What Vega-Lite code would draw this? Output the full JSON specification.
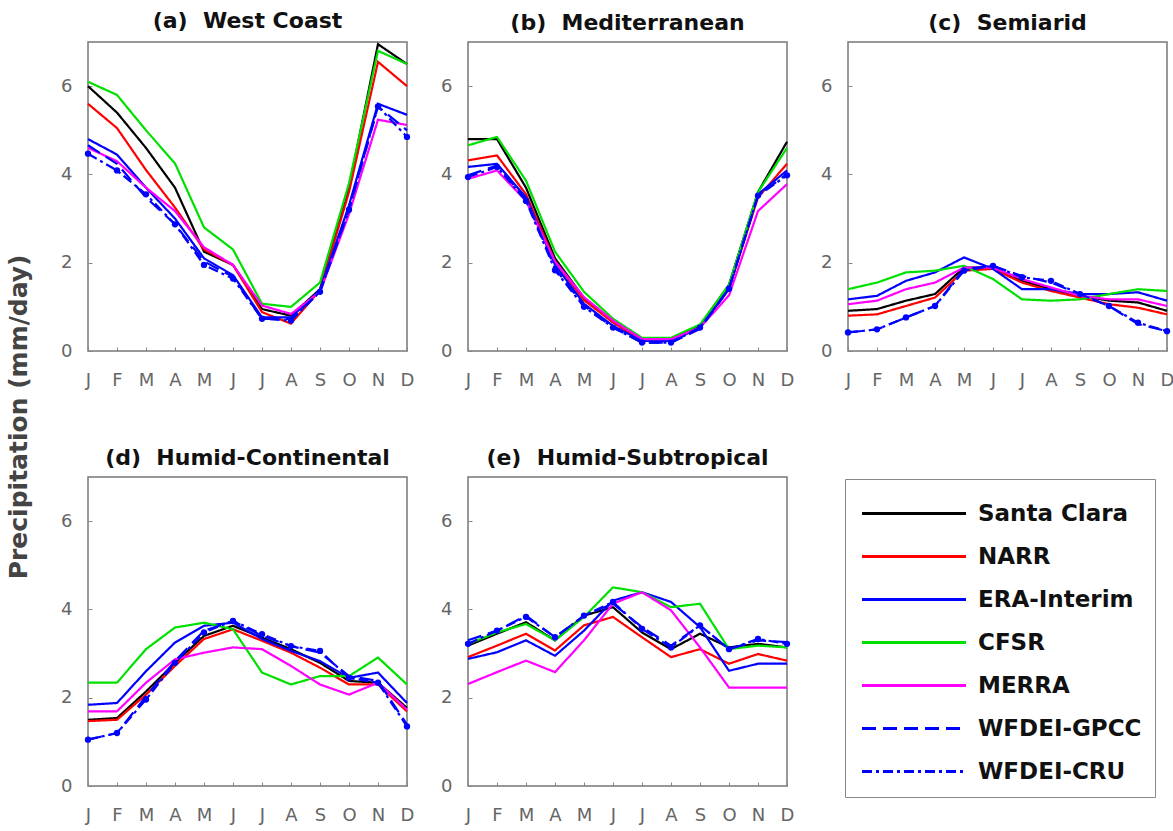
{
  "$schema": "https://vega.github.io/schema/vega-lite/v6.json",
  "padding": {"left": 6, "top": 9, "right": 0, "bottom": 0},
  "background": "white",
  "title": {"text": "Precipitation (mm/day)", "orient": "left", "anchor": "middle", "fontSize": 25, "fontWeight": "bold", "color": "#444", "font": "DejaVu Sans", "offset": 28},
  "config": {
    "view": {"stroke": "#777", "strokeWidth": 1.5},
    "axis": {"labelFont": "DejaVu Sans", "labelFontSize": 18, "labelColor": "#666", "domain": false, "grid": false, "ticks": true, "tickColor": "#888", "tickSize": -4},
    "header": {"labelFont": "DejaVu Sans", "labelFontSize": 22, "labelFontWeight": "bold", "labelColor": "#111", "labelPadding": 7, "title": null},
    "legend": {"labelFont": "DejaVu Sans", "labelFontSize": 23, "labelFontWeight": "bold", "labelColor": "#111", "labelLimit": 300}
  },
  "data": {"values": [
{"r":"a","s":"Santa Clara","m":1,"v":6.0},{"r":"a","s":"Santa Clara","m":2,"v":5.4},{"r":"a","s":"Santa Clara","m":3,"v":4.6},{"r":"a","s":"Santa Clara","m":4,"v":3.7},{"r":"a","s":"Santa Clara","m":5,"v":2.25},{"r":"a","s":"Santa Clara","m":6,"v":1.95},{"r":"a","s":"Santa Clara","m":7,"v":0.95},{"r":"a","s":"Santa Clara","m":8,"v":0.8},{"r":"a","s":"Santa Clara","m":9,"v":1.4},{"r":"a","s":"Santa Clara","m":10,"v":3.7},{"r":"a","s":"Santa Clara","m":11,"v":6.95},{"r":"a","s":"Santa Clara","m":12,"v":6.5},
{"r":"a","s":"NARR","m":1,"v":5.6},{"r":"a","s":"NARR","m":2,"v":5.05},{"r":"a","s":"NARR","m":3,"v":4.1},{"r":"a","s":"NARR","m":4,"v":3.25},{"r":"a","s":"NARR","m":5,"v":2.3},{"r":"a","s":"NARR","m":6,"v":1.95},{"r":"a","s":"NARR","m":7,"v":0.88},{"r":"a","s":"NARR","m":8,"v":0.62},{"r":"a","s":"NARR","m":9,"v":1.38},{"r":"a","s":"NARR","m":10,"v":3.6},{"r":"a","s":"NARR","m":11,"v":6.55},{"r":"a","s":"NARR","m":12,"v":6.0},
{"r":"a","s":"ERA-Interim","m":1,"v":4.8},{"r":"a","s":"ERA-Interim","m":2,"v":4.45},{"r":"a","s":"ERA-Interim","m":3,"v":3.7},{"r":"a","s":"ERA-Interim","m":4,"v":3.0},{"r":"a","s":"ERA-Interim","m":5,"v":2.1},{"r":"a","s":"ERA-Interim","m":6,"v":1.72},{"r":"a","s":"ERA-Interim","m":7,"v":0.76},{"r":"a","s":"ERA-Interim","m":8,"v":0.76},{"r":"a","s":"ERA-Interim","m":9,"v":1.38},{"r":"a","s":"ERA-Interim","m":10,"v":3.3},{"r":"a","s":"ERA-Interim","m":11,"v":5.6},{"r":"a","s":"ERA-Interim","m":12,"v":5.35},
{"r":"a","s":"CFSR","m":1,"v":6.1},{"r":"a","s":"CFSR","m":2,"v":5.8},{"r":"a","s":"CFSR","m":3,"v":5.0},{"r":"a","s":"CFSR","m":4,"v":4.25},{"r":"a","s":"CFSR","m":5,"v":2.8},{"r":"a","s":"CFSR","m":6,"v":2.3},{"r":"a","s":"CFSR","m":7,"v":1.07},{"r":"a","s":"CFSR","m":8,"v":1.0},{"r":"a","s":"CFSR","m":9,"v":1.55},{"r":"a","s":"CFSR","m":10,"v":3.8},{"r":"a","s":"CFSR","m":11,"v":6.8},{"r":"a","s":"CFSR","m":12,"v":6.5},
{"r":"a","s":"MERRA","m":1,"v":4.6},{"r":"a","s":"MERRA","m":2,"v":4.3},{"r":"a","s":"MERRA","m":3,"v":3.7},{"r":"a","s":"MERRA","m":4,"v":3.17},{"r":"a","s":"MERRA","m":5,"v":2.35},{"r":"a","s":"MERRA","m":6,"v":1.95},{"r":"a","s":"MERRA","m":7,"v":1.03},{"r":"a","s":"MERRA","m":8,"v":0.84},{"r":"a","s":"MERRA","m":9,"v":1.34},{"r":"a","s":"MERRA","m":10,"v":3.1},{"r":"a","s":"MERRA","m":11,"v":5.24},{"r":"a","s":"MERRA","m":12,"v":5.12},
{"r":"a","s":"WFDEI-GPCC","m":1,"v":4.66},{"r":"a","s":"WFDEI-GPCC","m":2,"v":4.24},{"r":"a","s":"WFDEI-GPCC","m":3,"v":3.48},{"r":"a","s":"WFDEI-GPCC","m":4,"v":2.87},{"r":"a","s":"WFDEI-GPCC","m":5,"v":2.03},{"r":"a","s":"WFDEI-GPCC","m":6,"v":1.68},{"r":"a","s":"WFDEI-GPCC","m":7,"v":0.73},{"r":"a","s":"WFDEI-GPCC","m":8,"v":0.73},{"r":"a","s":"WFDEI-GPCC","m":9,"v":1.34},{"r":"a","s":"WFDEI-GPCC","m":10,"v":3.2},{"r":"a","s":"WFDEI-GPCC","m":11,"v":5.54},{"r":"a","s":"WFDEI-GPCC","m":12,"v":5.0},
{"r":"a","s":"WFDEI-CRU","m":1,"v":4.47},{"r":"a","s":"WFDEI-CRU","m":2,"v":4.09},{"r":"a","s":"WFDEI-CRU","m":3,"v":3.55},{"r":"a","s":"WFDEI-CRU","m":4,"v":2.87},{"r":"a","s":"WFDEI-CRU","m":5,"v":1.95},{"r":"a","s":"WFDEI-CRU","m":6,"v":1.64},{"r":"a","s":"WFDEI-CRU","m":7,"v":0.73},{"r":"a","s":"WFDEI-CRU","m":8,"v":0.69},{"r":"a","s":"WFDEI-CRU","m":9,"v":1.34},{"r":"a","s":"WFDEI-CRU","m":10,"v":3.2},{"r":"a","s":"WFDEI-CRU","m":11,"v":5.54},{"r":"a","s":"WFDEI-CRU","m":12,"v":4.85},
{"r":"b","s":"Santa Clara","m":1,"v":4.8},{"r":"b","s":"Santa Clara","m":2,"v":4.8},{"r":"b","s":"Santa Clara","m":3,"v":3.7},{"r":"b","s":"Santa Clara","m":4,"v":2.1},{"r":"b","s":"Santa Clara","m":5,"v":1.2},{"r":"b","s":"Santa Clara","m":6,"v":0.65},{"r":"b","s":"Santa Clara","m":7,"v":0.27},{"r":"b","s":"Santa Clara","m":8,"v":0.27},{"r":"b","s":"Santa Clara","m":9,"v":0.57},{"r":"b","s":"Santa Clara","m":10,"v":1.5},{"r":"b","s":"Santa Clara","m":11,"v":3.6},{"r":"b","s":"Santa Clara","m":12,"v":4.74},
{"r":"b","s":"NARR","m":1,"v":4.32},{"r":"b","s":"NARR","m":2,"v":4.43},{"r":"b","s":"NARR","m":3,"v":3.55},{"r":"b","s":"NARR","m":4,"v":2.03},{"r":"b","s":"NARR","m":5,"v":1.15},{"r":"b","s":"NARR","m":6,"v":0.65},{"r":"b","s":"NARR","m":7,"v":0.23},{"r":"b","s":"NARR","m":8,"v":0.23},{"r":"b","s":"NARR","m":9,"v":0.53},{"r":"b","s":"NARR","m":10,"v":1.41},{"r":"b","s":"NARR","m":11,"v":3.48},{"r":"b","s":"NARR","m":12,"v":4.24},
{"r":"b","s":"ERA-Interim","m":1,"v":4.17},{"r":"b","s":"ERA-Interim","m":2,"v":4.24},{"r":"b","s":"ERA-Interim","m":3,"v":3.48},{"r":"b","s":"ERA-Interim","m":4,"v":1.95},{"r":"b","s":"ERA-Interim","m":5,"v":1.07},{"r":"b","s":"ERA-Interim","m":6,"v":0.57},{"r":"b","s":"ERA-Interim","m":7,"v":0.23},{"r":"b","s":"ERA-Interim","m":8,"v":0.23},{"r":"b","s":"ERA-Interim","m":9,"v":0.53},{"r":"b","s":"ERA-Interim","m":10,"v":1.41},{"r":"b","s":"ERA-Interim","m":11,"v":3.55},{"r":"b","s":"ERA-Interim","m":12,"v":4.09},
{"r":"b","s":"CFSR","m":1,"v":4.66},{"r":"b","s":"CFSR","m":2,"v":4.85},{"r":"b","s":"CFSR","m":3,"v":3.86},{"r":"b","s":"CFSR","m":4,"v":2.25},{"r":"b","s":"CFSR","m":5,"v":1.34},{"r":"b","s":"CFSR","m":6,"v":0.73},{"r":"b","s":"CFSR","m":7,"v":0.3},{"r":"b","s":"CFSR","m":8,"v":0.3},{"r":"b","s":"CFSR","m":9,"v":0.6},{"r":"b","s":"CFSR","m":10,"v":1.5},{"r":"b","s":"CFSR","m":11,"v":3.6},{"r":"b","s":"CFSR","m":12,"v":4.6},
{"r":"b","s":"MERRA","m":1,"v":3.9},{"r":"b","s":"MERRA","m":2,"v":4.09},{"r":"b","s":"MERRA","m":3,"v":3.4},{"r":"b","s":"MERRA","m":4,"v":2.03},{"r":"b","s":"MERRA","m":5,"v":1.22},{"r":"b","s":"MERRA","m":6,"v":0.69},{"r":"b","s":"MERRA","m":7,"v":0.27},{"r":"b","s":"MERRA","m":8,"v":0.27},{"r":"b","s":"MERRA","m":9,"v":0.53},{"r":"b","s":"MERRA","m":10,"v":1.26},{"r":"b","s":"MERRA","m":11,"v":3.17},{"r":"b","s":"MERRA","m":12,"v":3.78},
{"r":"b","s":"WFDEI-GPCC","m":1,"v":3.98},{"r":"b","s":"WFDEI-GPCC","m":2,"v":4.2},{"r":"b","s":"WFDEI-GPCC","m":3,"v":3.44},{"r":"b","s":"WFDEI-GPCC","m":4,"v":1.87},{"r":"b","s":"WFDEI-GPCC","m":5,"v":1.03},{"r":"b","s":"WFDEI-GPCC","m":6,"v":0.53},{"r":"b","s":"WFDEI-GPCC","m":7,"v":0.19},{"r":"b","s":"WFDEI-GPCC","m":8,"v":0.19},{"r":"b","s":"WFDEI-GPCC","m":9,"v":0.5},{"r":"b","s":"WFDEI-GPCC","m":10,"v":1.41},{"r":"b","s":"WFDEI-GPCC","m":11,"v":3.52},{"r":"b","s":"WFDEI-GPCC","m":12,"v":4.01},
{"r":"b","s":"WFDEI-CRU","m":1,"v":3.94},{"r":"b","s":"WFDEI-CRU","m":2,"v":4.17},{"r":"b","s":"WFDEI-CRU","m":3,"v":3.4},{"r":"b","s":"WFDEI-CRU","m":4,"v":1.83},{"r":"b","s":"WFDEI-CRU","m":5,"v":1.0},{"r":"b","s":"WFDEI-CRU","m":6,"v":0.53},{"r":"b","s":"WFDEI-CRU","m":7,"v":0.19},{"r":"b","s":"WFDEI-CRU","m":8,"v":0.19},{"r":"b","s":"WFDEI-CRU","m":9,"v":0.53},{"r":"b","s":"WFDEI-CRU","m":10,"v":1.41},{"r":"b","s":"WFDEI-CRU","m":11,"v":3.52},{"r":"b","s":"WFDEI-CRU","m":12,"v":3.98},
{"r":"c","s":"Santa Clara","m":1,"v":0.91},{"r":"c","s":"Santa Clara","m":2,"v":0.95},{"r":"c","s":"Santa Clara","m":3,"v":1.14},{"r":"c","s":"Santa Clara","m":4,"v":1.29},{"r":"c","s":"Santa Clara","m":5,"v":1.89},{"r":"c","s":"Santa Clara","m":6,"v":1.89},{"r":"c","s":"Santa Clara","m":7,"v":1.59},{"r":"c","s":"Santa Clara","m":8,"v":1.4},{"r":"c","s":"Santa Clara","m":9,"v":1.25},{"r":"c","s":"Santa Clara","m":10,"v":1.14},{"r":"c","s":"Santa Clara","m":11,"v":1.1},{"r":"c","s":"Santa Clara","m":12,"v":0.91},
{"r":"c","s":"NARR","m":1,"v":0.8},{"r":"c","s":"NARR","m":2,"v":0.83},{"r":"c","s":"NARR","m":3,"v":1.02},{"r":"c","s":"NARR","m":4,"v":1.21},{"r":"c","s":"NARR","m":5,"v":1.82},{"r":"c","s":"NARR","m":6,"v":1.86},{"r":"c","s":"NARR","m":7,"v":1.55},{"r":"c","s":"NARR","m":8,"v":1.36},{"r":"c","s":"NARR","m":9,"v":1.21},{"r":"c","s":"NARR","m":10,"v":1.06},{"r":"c","s":"NARR","m":11,"v":0.98},{"r":"c","s":"NARR","m":12,"v":0.83},
{"r":"c","s":"ERA-Interim","m":1,"v":1.17},{"r":"c","s":"ERA-Interim","m":2,"v":1.25},{"r":"c","s":"ERA-Interim","m":3,"v":1.59},{"r":"c","s":"ERA-Interim","m":4,"v":1.78},{"r":"c","s":"ERA-Interim","m":5,"v":2.12},{"r":"c","s":"ERA-Interim","m":6,"v":1.86},{"r":"c","s":"ERA-Interim","m":7,"v":1.4},{"r":"c","s":"ERA-Interim","m":8,"v":1.4},{"r":"c","s":"ERA-Interim","m":9,"v":1.29},{"r":"c","s":"ERA-Interim","m":10,"v":1.29},{"r":"c","s":"ERA-Interim","m":11,"v":1.33},{"r":"c","s":"ERA-Interim","m":12,"v":1.14},
{"r":"c","s":"CFSR","m":1,"v":1.4},{"r":"c","s":"CFSR","m":2,"v":1.55},{"r":"c","s":"CFSR","m":3,"v":1.78},{"r":"c","s":"CFSR","m":4,"v":1.82},{"r":"c","s":"CFSR","m":5,"v":1.93},{"r":"c","s":"CFSR","m":6,"v":1.63},{"r":"c","s":"CFSR","m":7,"v":1.17},{"r":"c","s":"CFSR","m":8,"v":1.14},{"r":"c","s":"CFSR","m":9,"v":1.17},{"r":"c","s":"CFSR","m":10,"v":1.29},{"r":"c","s":"CFSR","m":11,"v":1.4},{"r":"c","s":"CFSR","m":12,"v":1.36},
{"r":"c","s":"MERRA","m":1,"v":1.06},{"r":"c","s":"MERRA","m":2,"v":1.14},{"r":"c","s":"MERRA","m":3,"v":1.4},{"r":"c","s":"MERRA","m":4,"v":1.55},{"r":"c","s":"MERRA","m":5,"v":1.89},{"r":"c","s":"MERRA","m":6,"v":1.89},{"r":"c","s":"MERRA","m":7,"v":1.63},{"r":"c","s":"MERRA","m":8,"v":1.44},{"r":"c","s":"MERRA","m":9,"v":1.25},{"r":"c","s":"MERRA","m":10,"v":1.17},{"r":"c","s":"MERRA","m":11,"v":1.17},{"r":"c","s":"MERRA","m":12,"v":1.02},
{"r":"c","s":"WFDEI-GPCC","m":1,"v":0.42},{"r":"c","s":"WFDEI-GPCC","m":2,"v":0.49},{"r":"c","s":"WFDEI-GPCC","m":3,"v":0.76},{"r":"c","s":"WFDEI-GPCC","m":4,"v":1.02},{"r":"c","s":"WFDEI-GPCC","m":5,"v":1.86},{"r":"c","s":"WFDEI-GPCC","m":6,"v":1.93},{"r":"c","s":"WFDEI-GPCC","m":7,"v":1.7},{"r":"c","s":"WFDEI-GPCC","m":8,"v":1.55},{"r":"c","s":"WFDEI-GPCC","m":9,"v":1.29},{"r":"c","s":"WFDEI-GPCC","m":10,"v":1.02},{"r":"c","s":"WFDEI-GPCC","m":11,"v":0.61},{"r":"c","s":"WFDEI-GPCC","m":12,"v":0.45},
{"r":"c","s":"WFDEI-CRU","m":1,"v":0.42},{"r":"c","s":"WFDEI-CRU","m":2,"v":0.49},{"r":"c","s":"WFDEI-CRU","m":3,"v":0.76},{"r":"c","s":"WFDEI-CRU","m":4,"v":1.02},{"r":"c","s":"WFDEI-CRU","m":5,"v":1.82},{"r":"c","s":"WFDEI-CRU","m":6,"v":1.93},{"r":"c","s":"WFDEI-CRU","m":7,"v":1.67},{"r":"c","s":"WFDEI-CRU","m":8,"v":1.59},{"r":"c","s":"WFDEI-CRU","m":9,"v":1.29},{"r":"c","s":"WFDEI-CRU","m":10,"v":1.02},{"r":"c","s":"WFDEI-CRU","m":11,"v":0.64},{"r":"c","s":"WFDEI-CRU","m":12,"v":0.45},
{"r":"d","s":"Santa Clara","m":1,"v":1.5},{"r":"d","s":"Santa Clara","m":2,"v":1.54},{"r":"d","s":"Santa Clara","m":3,"v":2.14},{"r":"d","s":"Santa Clara","m":4,"v":2.79},{"r":"d","s":"Santa Clara","m":5,"v":3.4},{"r":"d","s":"Santa Clara","m":6,"v":3.63},{"r":"d","s":"Santa Clara","m":7,"v":3.36},{"r":"d","s":"Santa Clara","m":8,"v":3.1},{"r":"d","s":"Santa Clara","m":9,"v":2.79},{"r":"d","s":"Santa Clara","m":10,"v":2.38},{"r":"d","s":"Santa Clara","m":11,"v":2.34},{"r":"d","s":"Santa Clara","m":12,"v":1.77},
{"r":"d","s":"NARR","m":1,"v":1.47},{"r":"d","s":"NARR","m":2,"v":1.5},{"r":"d","s":"NARR","m":3,"v":2.07},{"r":"d","s":"NARR","m":4,"v":2.72},{"r":"d","s":"NARR","m":5,"v":3.33},{"r":"d","s":"NARR","m":6,"v":3.55},{"r":"d","s":"NARR","m":7,"v":3.29},{"r":"d","s":"NARR","m":8,"v":3.02},{"r":"d","s":"NARR","m":9,"v":2.68},{"r":"d","s":"NARR","m":10,"v":2.3},{"r":"d","s":"NARR","m":11,"v":2.3},{"r":"d","s":"NARR","m":12,"v":1.69},
{"r":"d","s":"ERA-Interim","m":1,"v":1.84},{"r":"d","s":"ERA-Interim","m":2,"v":1.88},{"r":"d","s":"ERA-Interim","m":3,"v":2.6},{"r":"d","s":"ERA-Interim","m":4,"v":3.25},{"r":"d","s":"ERA-Interim","m":5,"v":3.63},{"r":"d","s":"ERA-Interim","m":6,"v":3.7},{"r":"d","s":"ERA-Interim","m":7,"v":3.33},{"r":"d","s":"ERA-Interim","m":8,"v":3.06},{"r":"d","s":"ERA-Interim","m":9,"v":2.83},{"r":"d","s":"ERA-Interim","m":10,"v":2.45},{"r":"d","s":"ERA-Interim","m":11,"v":2.57},{"r":"d","s":"ERA-Interim","m":12,"v":1.88},
{"r":"d","s":"CFSR","m":1,"v":2.34},{"r":"d","s":"CFSR","m":2,"v":2.34},{"r":"d","s":"CFSR","m":3,"v":3.1},{"r":"d","s":"CFSR","m":4,"v":3.59},{"r":"d","s":"CFSR","m":5,"v":3.7},{"r":"d","s":"CFSR","m":6,"v":3.55},{"r":"d","s":"CFSR","m":7,"v":2.57},{"r":"d","s":"CFSR","m":8,"v":2.3},{"r":"d","s":"CFSR","m":9,"v":2.49},{"r":"d","s":"CFSR","m":10,"v":2.49},{"r":"d","s":"CFSR","m":11,"v":2.91},{"r":"d","s":"CFSR","m":12,"v":2.3},
{"r":"d","s":"MERRA","m":1,"v":1.69},{"r":"d","s":"MERRA","m":2,"v":1.69},{"r":"d","s":"MERRA","m":3,"v":2.34},{"r":"d","s":"MERRA","m":4,"v":2.87},{"r":"d","s":"MERRA","m":5,"v":3.02},{"r":"d","s":"MERRA","m":6,"v":3.14},{"r":"d","s":"MERRA","m":7,"v":3.1},{"r":"d","s":"MERRA","m":8,"v":2.72},{"r":"d","s":"MERRA","m":9,"v":2.3},{"r":"d","s":"MERRA","m":10,"v":2.07},{"r":"d","s":"MERRA","m":11,"v":2.34},{"r":"d","s":"MERRA","m":12,"v":1.73},
{"r":"d","s":"WFDEI-GPCC","m":1,"v":1.05},{"r":"d","s":"WFDEI-GPCC","m":2,"v":1.2},{"r":"d","s":"WFDEI-GPCC","m":3,"v":2.03},{"r":"d","s":"WFDEI-GPCC","m":4,"v":2.83},{"r":"d","s":"WFDEI-GPCC","m":5,"v":3.52},{"r":"d","s":"WFDEI-GPCC","m":6,"v":3.74},{"r":"d","s":"WFDEI-GPCC","m":7,"v":3.4},{"r":"d","s":"WFDEI-GPCC","m":8,"v":3.17},{"r":"d","s":"WFDEI-GPCC","m":9,"v":3.02},{"r":"d","s":"WFDEI-GPCC","m":10,"v":2.49},{"r":"d","s":"WFDEI-GPCC","m":11,"v":2.38},{"r":"d","s":"WFDEI-GPCC","m":12,"v":1.39},
{"r":"d","s":"WFDEI-CRU","m":1,"v":1.05},{"r":"d","s":"WFDEI-CRU","m":2,"v":1.2},{"r":"d","s":"WFDEI-CRU","m":3,"v":1.96},{"r":"d","s":"WFDEI-CRU","m":4,"v":2.79},{"r":"d","s":"WFDEI-CRU","m":5,"v":3.48},{"r":"d","s":"WFDEI-CRU","m":6,"v":3.74},{"r":"d","s":"WFDEI-CRU","m":7,"v":3.44},{"r":"d","s":"WFDEI-CRU","m":8,"v":3.17},{"r":"d","s":"WFDEI-CRU","m":9,"v":3.06},{"r":"d","s":"WFDEI-CRU","m":10,"v":2.45},{"r":"d","s":"WFDEI-CRU","m":11,"v":2.34},{"r":"d","s":"WFDEI-CRU","m":12,"v":1.35},
{"r":"e","s":"Santa Clara","m":1,"v":3.18},{"r":"e","s":"Santa Clara","m":2,"v":3.45},{"r":"e","s":"Santa Clara","m":3,"v":3.71},{"r":"e","s":"Santa Clara","m":4,"v":3.3},{"r":"e","s":"Santa Clara","m":5,"v":3.86},{"r":"e","s":"Santa Clara","m":6,"v":4.05},{"r":"e","s":"Santa Clara","m":7,"v":3.48},{"r":"e","s":"Santa Clara","m":8,"v":3.1},{"r":"e","s":"Santa Clara","m":9,"v":3.45},{"r":"e","s":"Santa Clara","m":10,"v":3.14},{"r":"e","s":"Santa Clara","m":11,"v":3.22},{"r":"e","s":"Santa Clara","m":12,"v":3.14},
{"r":"e","s":"NARR","m":1,"v":2.92},{"r":"e","s":"NARR","m":2,"v":3.18},{"r":"e","s":"NARR","m":3,"v":3.45},{"r":"e","s":"NARR","m":4,"v":3.07},{"r":"e","s":"NARR","m":5,"v":3.64},{"r":"e","s":"NARR","m":6,"v":3.83},{"r":"e","s":"NARR","m":7,"v":3.37},{"r":"e","s":"NARR","m":8,"v":2.92},{"r":"e","s":"NARR","m":9,"v":3.1},{"r":"e","s":"NARR","m":10,"v":2.77},{"r":"e","s":"NARR","m":11,"v":2.99},{"r":"e","s":"NARR","m":12,"v":2.84},
{"r":"e","s":"ERA-Interim","m":1,"v":2.88},{"r":"e","s":"ERA-Interim","m":2,"v":3.03},{"r":"e","s":"ERA-Interim","m":3,"v":3.3},{"r":"e","s":"ERA-Interim","m":4,"v":2.95},{"r":"e","s":"ERA-Interim","m":5,"v":3.52},{"r":"e","s":"ERA-Interim","m":6,"v":4.2},{"r":"e","s":"ERA-Interim","m":7,"v":4.39},{"r":"e","s":"ERA-Interim","m":8,"v":4.17},{"r":"e","s":"ERA-Interim","m":9,"v":3.6},{"r":"e","s":"ERA-Interim","m":10,"v":2.61},{"r":"e","s":"ERA-Interim","m":11,"v":2.77},{"r":"e","s":"ERA-Interim","m":12,"v":2.77},
{"r":"e","s":"CFSR","m":1,"v":3.22},{"r":"e","s":"CFSR","m":2,"v":3.48},{"r":"e","s":"CFSR","m":3,"v":3.67},{"r":"e","s":"CFSR","m":4,"v":3.3},{"r":"e","s":"CFSR","m":5,"v":3.83},{"r":"e","s":"CFSR","m":6,"v":4.5},{"r":"e","s":"CFSR","m":7,"v":4.39},{"r":"e","s":"CFSR","m":8,"v":4.05},{"r":"e","s":"CFSR","m":9,"v":4.13},{"r":"e","s":"CFSR","m":10,"v":3.1},{"r":"e","s":"CFSR","m":11,"v":3.18},{"r":"e","s":"CFSR","m":12,"v":3.14},
{"r":"e","s":"MERRA","m":1,"v":2.31},{"r":"e","s":"MERRA","m":2,"v":2.58},{"r":"e","s":"MERRA","m":3,"v":2.84},{"r":"e","s":"MERRA","m":4,"v":2.58},{"r":"e","s":"MERRA","m":5,"v":3.3},{"r":"e","s":"MERRA","m":6,"v":4.13},{"r":"e","s":"MERRA","m":7,"v":4.39},{"r":"e","s":"MERRA","m":8,"v":3.98},{"r":"e","s":"MERRA","m":9,"v":3.14},{"r":"e","s":"MERRA","m":10,"v":2.23},{"r":"e","s":"MERRA","m":11,"v":2.23},{"r":"e","s":"MERRA","m":12,"v":2.23},
{"r":"e","s":"WFDEI-GPCC","m":1,"v":3.3},{"r":"e","s":"WFDEI-GPCC","m":2,"v":3.52},{"r":"e","s":"WFDEI-GPCC","m":3,"v":3.86},{"r":"e","s":"WFDEI-GPCC","m":4,"v":3.37},{"r":"e","s":"WFDEI-GPCC","m":5,"v":3.86},{"r":"e","s":"WFDEI-GPCC","m":6,"v":4.13},{"r":"e","s":"WFDEI-GPCC","m":7,"v":3.6},{"r":"e","s":"WFDEI-GPCC","m":8,"v":3.18},{"r":"e","s":"WFDEI-GPCC","m":9,"v":3.64},{"r":"e","s":"WFDEI-GPCC","m":10,"v":3.1},{"r":"e","s":"WFDEI-GPCC","m":11,"v":3.3},{"r":"e","s":"WFDEI-GPCC","m":12,"v":3.26},
{"r":"e","s":"WFDEI-CRU","m":1,"v":3.22},{"r":"e","s":"WFDEI-CRU","m":2,"v":3.52},{"r":"e","s":"WFDEI-CRU","m":3,"v":3.83},{"r":"e","s":"WFDEI-CRU","m":4,"v":3.37},{"r":"e","s":"WFDEI-CRU","m":5,"v":3.86},{"r":"e","s":"WFDEI-CRU","m":6,"v":4.17},{"r":"e","s":"WFDEI-CRU","m":7,"v":3.56},{"r":"e","s":"WFDEI-CRU","m":8,"v":3.14},{"r":"e","s":"WFDEI-CRU","m":9,"v":3.64},{"r":"e","s":"WFDEI-CRU","m":10,"v":3.1},{"r":"e","s":"WFDEI-CRU","m":11,"v":3.33},{"r":"e","s":"WFDEI-CRU","m":12,"v":3.22}
  ]},
  "facet": {
    "field": "r", "type": "nominal",
    "header": {"labelExpr": "{'a':'(a)\u00a0 West Coast','b':'(b)\u00a0 Mediterranean','c':'(c)\u00a0 Semiarid','d':'(d)\u00a0 Humid-Continental','e':'(e)\u00a0 Humid-Subtropical'}[datum.value]"}
  },
  "columns": 3,
  "spacing": {"column": 24, "row": 56},
  "resolve": {"axis": {"x": "independent", "y": "independent"}},
  "spec": {
    "width": 319,
    "height": 309,
    "encoding": {
      "x": {"field": "m", "type": "quantitative", "scale": {"domain": [1, 12], "nice": false, "zero": false},
        "axis": {"title": null, "values": [1,2,3,4,5,6,7,8,9,10,11,12], "labelExpr": "['J','F','M','A','M','J','J','A','S','O','N','D'][datum.value-1]", "labelPadding": 24, "labelFlush": false}},
      "y": {"field": "v", "type": "quantitative", "scale": {"domain": [0, 7], "nice": false},
        "axis": {"title": null, "values": [0, 2, 4, 6], "labelPadding": 20}}
    },
    "layer": [
      {"mark": {"type": "line", "strokeWidth": 2.2},
       "encoding": {
         "color": {"field": "s", "type": "nominal", "title": null,
           "scale": {"domain": ["Santa Clara","NARR","ERA-Interim","CFSR","MERRA","WFDEI-GPCC","WFDEI-CRU"], "range": ["#000000","#ff0000","#0000ff","#00e000","#ff00ff","#0000ff","#0000ff"]},
           "legend": {"orient": "none", "legendX": 757, "legendY": 437, "direction": "vertical", "symbolType": "M-0.875,0H4.325", "symbolStrokeWidth": 3, "symbolSize": 1600, "labelOffset": 77, "rowPadding": 9, "padding": 13, "strokeColor": "#888", "fillColor": "white"}},
         "strokeDash": {"field": "s", "type": "nominal", "title": null,
           "scale": {"domain": ["Santa Clara","NARR","ERA-Interim","CFSR","MERRA","WFDEI-GPCC","WFDEI-CRU"], "range": [[1,0],[1,0],[1,0],[1,0],[1,0],[14,7],[10,4,3,4]]}}
       }},
      {"transform": [{"filter": "datum.s === 'WFDEI-CRU'"}],
       "mark": {"type": "point", "filled": true, "size": 40, "color": "#0000ff", "opacity": 1}}
    ]
  }
}
